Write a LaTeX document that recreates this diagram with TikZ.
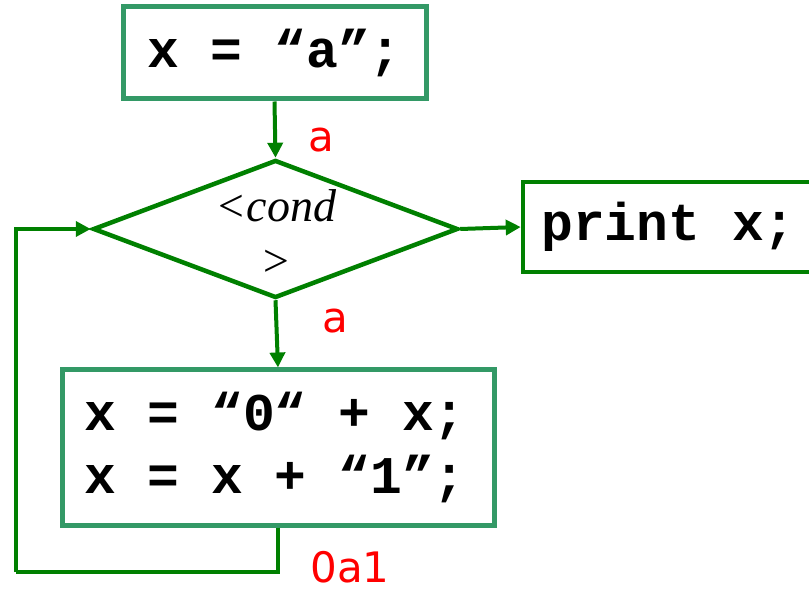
\documentclass[tikz,border=0pt]{standalone}
\usepackage{fontspec}
\setmonofont{Liberation Mono}
\newfontfamily\condfont{Liberation Serif}
\newfontfamily\labfont{DejaVu Sans}
\usetikzlibrary{arrows.meta,shapes.geometric}
\definecolor{boxgreen}{HTML}{339966}
\definecolor{arrgreen}{HTML}{008000}
\begin{document}
\begin{tikzpicture}[x=1pt,y=-1pt,
  codefont/.style={font=\fontsize{53}{63}\selectfont\ttfamily\bfseries},
  codebox/.style={codefont, draw=boxgreen, line width=5pt, inner sep=0pt, fill=white},
  printbox/.style={codefont, draw=arrgreen, line width=4.5pt, inner sep=0pt, fill=white},
  codetext/.style={codefont, inner sep=0pt, align=left},
  condshape/.style={draw=arrgreen, line width=4.5pt, diamond, inner sep=0pt},
  condtxt/.style={font=\fontsize{46}{55}\selectfont\condfont\itshape, align=center, inner sep=0pt},
  flow/.style={draw=arrgreen, line width=4pt, -{Triangle[length=15pt,width=15pt]}},
  loopline/.style={draw=arrgreen, line width=4pt},
  lab/.style={text=red, font=\fontsize{42}{50}\selectfont\labfont, anchor=base, inner sep=0pt}
]
\useasboundingbox (0,0) rectangle (809,593);
\clip (0,0) rectangle (809,593);

\node[codebox, minimum width=303pt, minimum height=92pt] (init) at (274.5,53) {x = “a”;};

\node[condshape, minimum width=365pt, minimum height=138pt] (cond) at (275.5,229) {};
\node[condtxt] (condtext) at (276,233) {<cond\\>};

\node[printbox, minimum width=291pt, minimum height=90pt] (print) at (668.5,227) {print x;};

\node[codebox, minimum width=432pt, minimum height=155pt] (body) at (278,447.5) {};
\node[codetext, anchor=west] (bodytext) at (84,447.5) {x = “0“ + x;\\x = x + “1”;};

\coordinate (loopc) at (16,572);

\draw[flow] (init.south) -- (cond.north);
\draw[flow] (cond.south) -- (body.north);
\draw[flow] (cond.east) -- (print.west);
\draw[loopline] (body.south) |- (loopc);
\draw[flow] (loopc) |- (cond.west);

\node[lab] (la1) at (321,151.7) {a};
\node[lab] (la2) at (335,333) {a};
\node[lab] (la3) at (350,582) {0a1};
\end{tikzpicture}
\end{document}
